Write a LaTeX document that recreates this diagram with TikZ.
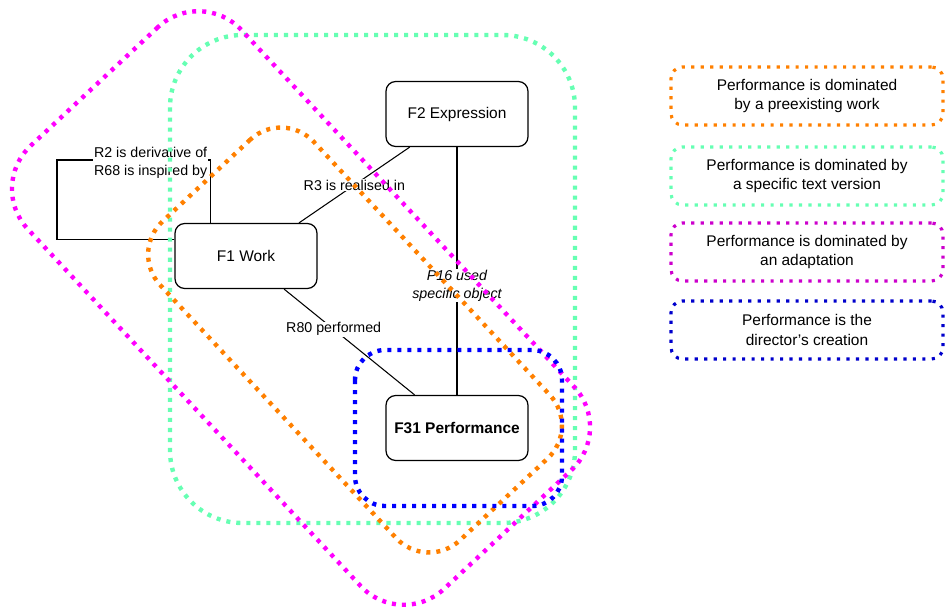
\documentclass[tikz,border=0pt]{standalone}
\usepackage{fontspec}
\setmainfont{Liberation Sans}
\definecolor{orng}{HTML}{FF8000}
\definecolor{mint}{HTML}{66FFB3}
\definecolor{mgnt}{HTML}{FF00FF}
\definecolor{blu}{HTML}{0000FF}
\definecolor{keyorng}{HTML}{FF8000}
\definecolor{keymint}{HTML}{66FFB3}
\definecolor{keymgnt}{HTML}{CC00CC}
\definecolor{keyblu}{HTML}{0000CC}
\newcommand{\fs}{\fontsize{8.8}{11.3}\selectfont}
\newcommand{\fl}{\fontsize{8.1}{10.2}\selectfont}
\tikzset{
  cls/.style={draw, line width=0.7pt, rounded corners=5.5pt, fill=white,
    minimum width=2.84cm, minimum height=1.3cm, font=\fs},
  lbl/.style={fill=white, inner sep=0.5pt, align=center, font=\fl},
  grp/.style={line width=2.5pt, dash pattern=on 2.3pt off 3.4pt},
  key/.style={draw, line width=1.8pt, dash pattern=on 1.8pt off 3.6pt,
    rounded corners=6.5pt, minimum width=5.44cm, minimum height=1.16cm,
    align=center, font=\fs}
}
\begin{document}
\begin{tikzpicture}[x=0.02cm, y=-0.02cm]
\useasboundingbox (0,0) rectangle (946,609);
\node [cls] (f2) at (457,114) {F2 Expression};
\node [cls] (f1) at (246,256) {F1 Work};
\node [cls] (f31) at (457,428) {\textbf{F31 Performance}};
\coordinate (loop) at (57,160);
%
\draw [line width=0.6pt] (f1.32) -- node [lbl] (r3) {R3 is realised in} (f2.215);
\draw [line width=0.6pt] (f1.-41) -- node [lbl, pos=0.38] (r80) {R80 performed} (f31.142);
\draw [line width=0.6pt] (f2) -- node [lbl, pos=0.56, font=\fl\itshape] (p16) {P16 used\\specific object} (f31);
\draw [line width=0.6pt] (f1.167) -| (loop) -| node [lbl, pos=0.305, yshift=-0.06cm] (r2) {R2 is derivative of\\R68 is inspired by} (f1.137);
%
\draw [grp, mint, rounded corners=1.45cm] (170,35) rectangle (575,523);
\begin{scope}[shift={(301,308)}, rotate=-47]
\draw [grp, mgnt, rounded corners=1.18cm] (-303,-146) rectangle (303,146);
\end{scope}
\begin{scope}[shift={(355,340)}, rotate=-47]
\draw [grp, orng, rounded corners=0.9cm] (-218,-105) rectangle (218,105);
\end{scope}
\draw [grp, blu, rounded corners=0.6cm] (355,350) rectangle (562,506);
%
\node [key, keyorng, text=black] (k1) at (807,96) {Performance is dominated\\by a preexisting work};
\node [key, keymint, text=black] (k2) at (807,176) {Performance is dominated by\\a specific text version};
\node [key, keymgnt, text=black] (k3) at (807,252) {Performance is dominated by\\an adaptation};
\node [key, keyblu, text=black] (k4) at (807,330) {Performance is the\\director's creation};
\end{tikzpicture}
\end{document}
